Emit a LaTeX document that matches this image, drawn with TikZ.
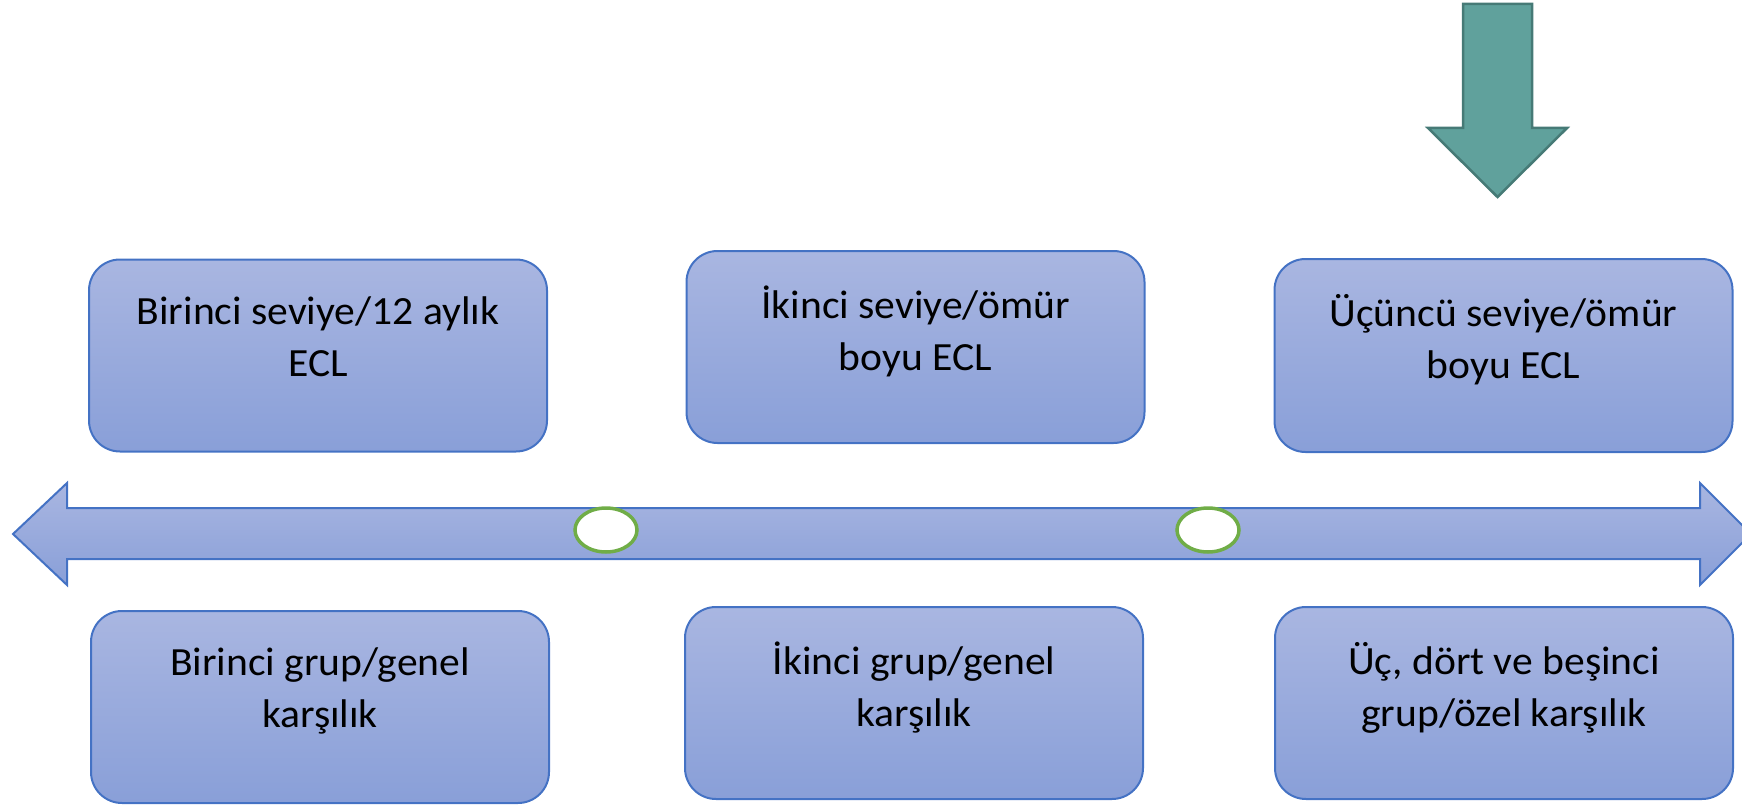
\documentclass[tikz,border=0pt]{standalone}
\usepackage{fontspec}
\setmainfont{Carlito}[FakeStretch=1.04]
\usetikzlibrary{shapes.geometric}
\definecolor{boxtop}{RGB}{169,182,225}
\definecolor{boxbot}{RGB}{137,159,216}
\definecolor{boxline}{RGB}{68,114,196}
\definecolor{ringgreen}{RGB}{112,173,71}
\definecolor{tealfill}{RGB}{96,161,156}
\definecolor{tealline}{RGB}{70,122,118}
\tikzset{
  stagebox/.style={rectangle, rounded corners=31pt, draw=boxline, line width=2pt,
    top color=boxtop, bottom color=boxbot, minimum width=458pt, minimum height=192pt,
    align=center, inner sep=0pt, text=black,
    font=\fontsize{40}{52}\selectfont,
    execute at begin node={\rule{0pt}{36pt}},
    execute at end node={\rule[-38pt]{0pt}{0pt}}},
  ring/.style={ellipse, draw=ringgreen, line width=3.5pt, fill=white,
    minimum width=62pt, minimum height=44pt, inner sep=0pt},
  timeline/.style={draw=boxline, line width=2pt, top color=boxtop, bottom color=boxbot},
  downarrow/.style={draw=tealline, line width=2.5pt, fill=tealfill, line join=miter}
}
\begin{document}
\begin{tikzpicture}[x=1pt,y=-1pt]
\useasboundingbox (0,0) rectangle (1742,805);
% timeline double arrow
\path[timeline] (13,534) -- (67,483) -- (67,508) -- (1700,508) -- (1700,483)
  -- (1751,534) -- (1700,585) -- (1700,559) -- (67,559) -- (67,585) -- cycle;
% markers
\node[ring] (m1) at (606,530) {};
\node[ring] (m2) at (1208,530) {};
% down arrow
\path[downarrow] (1463,4) -- (1532,4) -- (1532,128) -- (1567,128) -- (1497.5,197)
  -- (1428,128) -- (1463,128) -- cycle;
% top boxes
\node[stagebox] (t1) at (318,355.5) {Birinci seviye/12 aylık\\ECL};
\node[stagebox] (t2) at (915.5,347) {İkinci seviye/ömür\\boyu ECL};
\node[stagebox, minimum height=193pt] (t3) at (1503.5,355.5) {Üçüncü seviye/ömür\\boyu ECL};
% bottom boxes
\node[stagebox] (b1) at (320,707) {Birinci grup/genel\\karşılık};
\node[stagebox] (b2) at (914,703) {İkinci grup/genel\\karşılık};
\node[stagebox] (b3) at (1504,703) {Üç, dört ve beşinci\\grup/özel karşılık};
\end{tikzpicture}
\end{document}
